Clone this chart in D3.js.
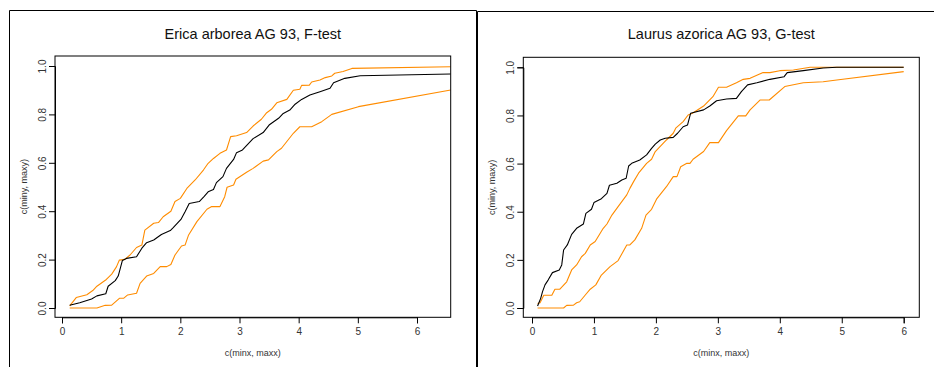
<!DOCTYPE html>
<html>
<head>
<meta charset="utf-8">
<script src="https://cdn.jsdelivr.net/npm/d3@7"></script>
<style>
  body { margin: 0; background: #fff; }
  svg { display: block; font-family: "Liberation Sans", Arial, sans-serif; }
</style>
</head>
<body>
<svg id="chart" width="934" height="367"></svg>
<script>
// tick values
const xTicks = [0, 1, 2, 3, 4, 5, 6];
const yTicks = [0, 0.2, 0.4, 0.6, 0.8, 1.0];

// Erica arborea, F-test : observed curve and envelope
const ericaObs = [[0.13,0.011],[0.30,0.022],[0.50,0.037],[0.59,0.05],[0.74,0.059],[0.78,0.09],[0.90,0.113],[0.95,0.132],[1.02,0.196],[1.09,0.205],[1.26,0.212],[1.35,0.247],[1.43,0.27],[1.55,0.281],[1.68,0.304],[1.83,0.32],[1.88,0.332],[2.01,0.366],[2.08,0.398],[2.15,0.432],[2.32,0.44],[2.40,0.46],[2.47,0.48],[2.56,0.49],[2.61,0.518],[2.72,0.543],[2.78,0.577],[2.90,0.614],[2.95,0.642],[3.05,0.653],[3.13,0.674],[3.23,0.70],[3.40,0.725],[3.50,0.756],[3.66,0.784],[3.74,0.804],[3.85,0.818],[3.94,0.842],[4.05,0.862],[4.19,0.88],[4.36,0.894],[4.53,0.908],[4.59,0.931],[4.78,0.949],[5.04,0.96],[6.57,0.967]];
const ericaUpper = [[0.13,0.009],[0.24,0.043],[0.42,0.055],[0.52,0.072],[0.59,0.09],[0.75,0.118],[0.84,0.14],[0.92,0.17],[0.97,0.198],[1.06,0.201],[1.15,0.219],[1.26,0.25],[1.35,0.26],[1.40,0.322],[1.55,0.35],[1.63,0.353],[1.71,0.377],[1.84,0.40],[1.91,0.44],[2.0,0.453],[2.11,0.494],[2.25,0.529],[2.39,0.57],[2.47,0.598],[2.56,0.618],[2.67,0.639],[2.78,0.653],[2.85,0.708],[2.95,0.712],[3.12,0.725],[3.23,0.752],[3.37,0.78],[3.46,0.807],[3.54,0.821],[3.63,0.848],[3.80,0.862],[3.91,0.90],[4.02,0.904],[4.05,0.92],[4.18,0.921],[4.22,0.934],[4.36,0.942],[4.45,0.952],[4.56,0.959],[4.61,0.97],[4.75,0.977],[4.90,0.99],[6.57,0.997]];
const ericaLower = [[0.13,0.0],[0.59,0.0],[0.73,0.011],[0.84,0.012],[0.97,0.04],[1.04,0.04],[1.11,0.054],[1.26,0.061],[1.32,0.102],[1.43,0.132],[1.55,0.143],[1.66,0.171],[1.77,0.171],[1.84,0.18],[1.91,0.219],[2.02,0.256],[2.08,0.26],[2.14,0.302],[2.28,0.357],[2.45,0.408],[2.53,0.419],[2.67,0.419],[2.75,0.46],[2.79,0.499],[2.90,0.508],[2.94,0.532],[3.12,0.561],[3.23,0.577],[3.40,0.607],[3.49,0.612],[3.63,0.646],[3.71,0.66],[3.91,0.722],[4.02,0.749],[4.22,0.749],[4.39,0.77],[4.56,0.80],[5.01,0.832],[6.57,0.901]];

// Laurus azorica, G-test : observed curve and envelope
const laurusObs = [[0.09,0.008],[0.14,0.04],[0.17,0.068],[0.21,0.096],[0.26,0.116],[0.33,0.147],[0.44,0.158],[0.48,0.179],[0.51,0.241],[0.57,0.262],[0.64,0.306],[0.72,0.331],[0.83,0.349],[0.87,0.393],[0.96,0.41],[1.0,0.438],[1.12,0.454],[1.21,0.476],[1.25,0.51],[1.37,0.518],[1.45,0.532],[1.52,0.539],[1.56,0.59],[1.61,0.601],[1.74,0.615],[1.85,0.636],[1.93,0.663],[1.99,0.681],[2.07,0.698],[2.15,0.705],[2.28,0.709],[2.35,0.726],[2.44,0.753],[2.51,0.76],[2.56,0.809],[2.77,0.823],[2.87,0.839],[2.98,0.861],[3.14,0.868],[3.30,0.871],[3.38,0.899],[3.48,0.927],[3.63,0.936],[3.84,0.95],[4.07,0.961],[4.12,0.978],[4.38,0.986],[4.70,0.997],[4.92,1.0],[6.0,1.0]];
const laurusUpper = [[0.09,0.019],[0.13,0.022],[0.19,0.053],[0.32,0.053],[0.37,0.078],[0.45,0.078],[0.56,0.109],[0.64,0.158],[0.72,0.179],[0.80,0.213],[0.86,0.227],[0.94,0.262],[1.02,0.276],[1.15,0.331],[1.21,0.349],[1.29,0.386],[1.39,0.421],[1.53,0.47],[1.58,0.497],[1.64,0.525],[1.72,0.56],[1.85,0.601],[1.93,0.618],[1.99,0.65],[2.17,0.698],[2.28,0.726],[2.32,0.747],[2.44,0.774],[2.52,0.802],[2.59,0.809],[2.77,0.839],[2.92,0.878],[3.01,0.917],[3.14,0.917],[3.30,0.936],[3.41,0.95],[3.52,0.954],[3.73,0.978],[3.84,0.978],[4.00,0.986],[4.22,0.989],[4.49,1.0],[6.0,1.0]];
const laurusLower = [[0.09,0.0],[0.51,0.0],[0.56,0.011],[0.67,0.012],[0.72,0.022],[0.77,0.026],[0.86,0.054],[0.94,0.078],[1.03,0.096],[1.12,0.137],[1.26,0.172],[1.39,0.197],[1.53,0.262],[1.58,0.262],[1.66,0.283],[1.77,0.331],[1.84,0.386],[1.93,0.41],[2.01,0.452],[2.17,0.504],[2.28,0.546],[2.34,0.546],[2.40,0.587],[2.50,0.601],[2.55,0.601],[2.60,0.618],[2.77,0.65],[2.87,0.687],[3.01,0.687],[3.14,0.737],[3.33,0.798],[3.45,0.798],[3.52,0.823],[3.68,0.864],[3.83,0.864],[4.08,0.92],[4.38,0.936],[4.70,0.94],[4.92,0.947],[6.0,0.982]];

const svg = d3.select('#chart');
const orange = '#ff8c00';

// outer frames of the two screenshots
svg.append('path')
   .attr('d', 'M9.5,367 V10.5 H476.5 V367')
   .attr('fill', 'none').attr('stroke', '#000').attr('stroke-width', 1);
svg.append('path')
   .attr('d', 'M477.5,367 V11.5 H934')
   .attr('fill', 'none').attr('stroke', '#000').attr('stroke-width', 1);

const panels = [
   { id: 'erica', title: 'Erica arborea AG 93, F-test',
     xr: [62, 417], yr: [308, 66], box: [55, 56, 450.7, 317.3],
     series: [ericaLower, ericaUpper, ericaObs] },
   { id: 'laurus', title: 'Laurus azorica AG 93, G-test',
     xr: [532, 903.7], yr: [308, 67.3], box: [523.3, 57.3, 919.3, 317.3],
     series: [laurusLower, laurusUpper, laurusObs] }
];

panels.forEach(function(p) {
   const x = d3.scaleLinear().domain([0, 6]).range(p.xr);
   const y = d3.scaleLinear().domain([0, 1]).range(p.yr);
   const [bx0, by0, bx1, by1] = p.box;
   const g = svg.append('g');

   g.append('clipPath').attr('id', 'clip-' + p.id)
      .append('rect')
      .attr('x', bx0).attr('y', by0)
      .attr('width', bx1 - bx0).attr('height', by1 - by0);

   const line = d3.line().x(d => x(d[0])).y(d => y(d[1]));
   const colors = [orange, orange, '#000'];
   p.series.forEach(function(s, i) {
      g.append('path')
         .datum(s)
         .attr('clip-path', `url(#clip-${p.id})`)
         .attr('fill', 'none')
         .attr('stroke', colors[i])
         .attr('stroke-width', 1.1)
         .attr('stroke-linejoin', 'round')
         .attr('d', line);
   });

   // plot box
   g.append('rect')
      .attr('x', bx0).attr('y', by0)
      .attr('width', bx1 - bx0).attr('height', by1 - by0)
      .attr('fill', 'none').attr('stroke', '#000').attr('stroke-width', 1);

   // x axis
   const xa = g.append('g')
      .attr('transform', `translate(0,${by1})`)
      .call(d3.axisBottom(x).tickValues(xTicks).tickFormat(d3.format('d')).tickSize(6).tickPadding(5));
   xa.select('.domain').attr('stroke', '#000');
   xa.selectAll('text').attr('font-size', 10).attr('fill', '#333').attr('font-family', '"Liberation Sans", Arial, sans-serif');

   // y axis with rotated labels
   const ya = g.append('g')
      .attr('transform', `translate(${bx0},0)`)
      .call(d3.axisLeft(y).tickValues(yTicks).tickFormat(d3.format('.1f')).tickSize(6));
   ya.select('.domain').attr('stroke', '#000');
   ya.selectAll('text')
      .attr('font-size', 10).attr('fill', '#333')
      .attr('font-family', '"Liberation Sans", Arial, sans-serif')
      .attr('x', null).attr('dy', null)
      .attr('text-anchor', 'middle')
      .attr('transform', 'translate(-9,0) rotate(-90)');

   // titles
   const cx = (bx0 + bx1) / 2;
   g.append('text')
      .attr('x', cx).attr('y', 39)
      .attr('text-anchor', 'middle')
      .attr('font-size', 14.5).attr('fill', '#111')
      .text(p.title);
   g.append('text')
      .attr('x', cx).attr('y', 356)
      .attr('text-anchor', 'middle')
      .attr('font-size', 9).attr('fill', '#333')
      .text('c(minx, maxx)');
   g.append('text')
      .attr('transform', `translate(${bx0 - 28},${(by0 + by1) / 2}) rotate(-90)`)
      .attr('text-anchor', 'middle')
      .attr('font-size', 9).attr('fill', '#333')
      .text('c(miny, maxy)');
});
</script>
</body>
</html>
